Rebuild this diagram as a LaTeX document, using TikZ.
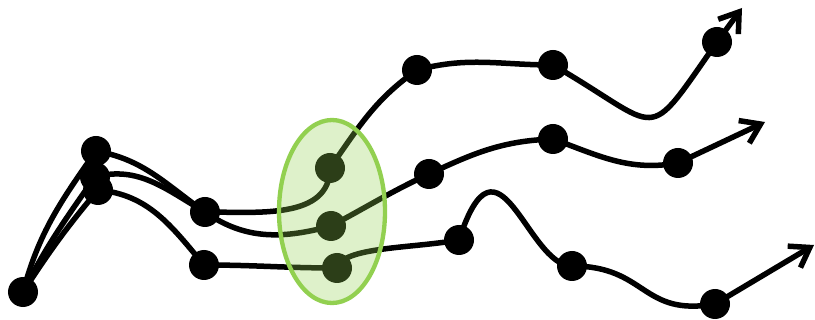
\documentclass[tikz,border=0pt]{standalone}
\usepackage{tikz}
\usetikzlibrary{arrows.meta,shapes.geometric,backgrounds}
\definecolor{grpgreen}{RGB}{146,208,80}
\tikzstyle{dot}=[circle, fill=black, minimum size=0.9cm, inner sep=0pt]
\tikzstyle{flow}=[line width=0.165cm, line cap=round]
\tikzstyle{tip}=[-{Straight Barb[length=0.55cm,width=0.75cm]}]
\tikzstyle{group}=[ellipse, draw=grpgreen, line width=0.13cm, fill=grpgreen, fill opacity=0.3, minimum width=3.18cm, minimum height=5.49cm]

\begin{document}
\begin{tikzpicture}[x=0.03cm, y=0.03cm]
        \useasboundingbox (0,0) rectangle (815,-320);
        %
        \node at (23,-292) [dot] (src) {};
        % left column
        \node at (96,-151) [dot] (a1) {};
        \node at (95,-177) [dot] (a2) {};
        \node at (98,-190) [dot] (a3) {};
        \node at (205,-212) [dot] (b1) {};
        \node at (204,-265) [dot] (b3) {};
        % inside the group
        \node at (330,-168) [dot] (e1) {};
        \node at (331,-226) [dot] (e2) {};
        \node at (337,-268) [dot] (e3) {};
        % top run
        \node at (417,-70) [dot] (c1) {};
        \node at (553,-65) [dot] (d1) {};
        \node at (717,-42) [dot] (f1) {};
        \coordinate (t1) at (742,-8);
        % middle run
        \node at (429,-174) [dot] (g2) {};
        \node at (553,-139) [dot] (h2) {};
        \node at (678,-163) [dot] (k2) {};
        \coordinate (t2) at (765,-122);
        % bottom run
        \node at (459,-240) [dot] (m3) {};
        \node at (572,-266) [dot] (n3) {};
        \node at (715,-304) [dot] (p3) {};
        \coordinate (t3) at (814,-245);
        %
        \begin{pgfonlayer}{background}
        \draw[flow] (src.center) to[out=75,in=235] (a1.center) to[out=-10,in=145] (b1.center)
            to[out=0,in=-90] (e1.center) to[out=55,in=215] (c1.center) to[out=15,in=180] (d1.center)
            to[out=-30,in=235,looseness=2] (f1.center);
        \draw[flow,tip] (f1.center) -- (t1);
        \draw[flow] (src.center) to[out=63,in=235] (a2.center) to[out=15,in=150] (b1.center)
            to[out=-35,in=195] (e2.center) to[out=28,in=205] (g2.center) to[out=25,in=182] (h2.center)
            to[out=-20,in=190] (k2.center);
        \draw[flow,tip] (k2.center) -- (t2);
        \draw[flow] (src.center) to[out=57,in=230] (a3.center) to[out=-5,in=130] (b3.center)
            to[out=0,in=180] (e3.center) to[out=75,in=190,out looseness=0.45] (m3.center)
            .. controls +(72:128) and +(180:45) .. (n3.center)
            to[out=0,in=190,looseness=1.3] (p3.center);
        \draw[flow,tip] (p3.center) -- (t3);
        \end{pgfonlayer}
        %
        \node at (332,-211.5) [group] (grp) {};
\end{tikzpicture}
\end{document}
